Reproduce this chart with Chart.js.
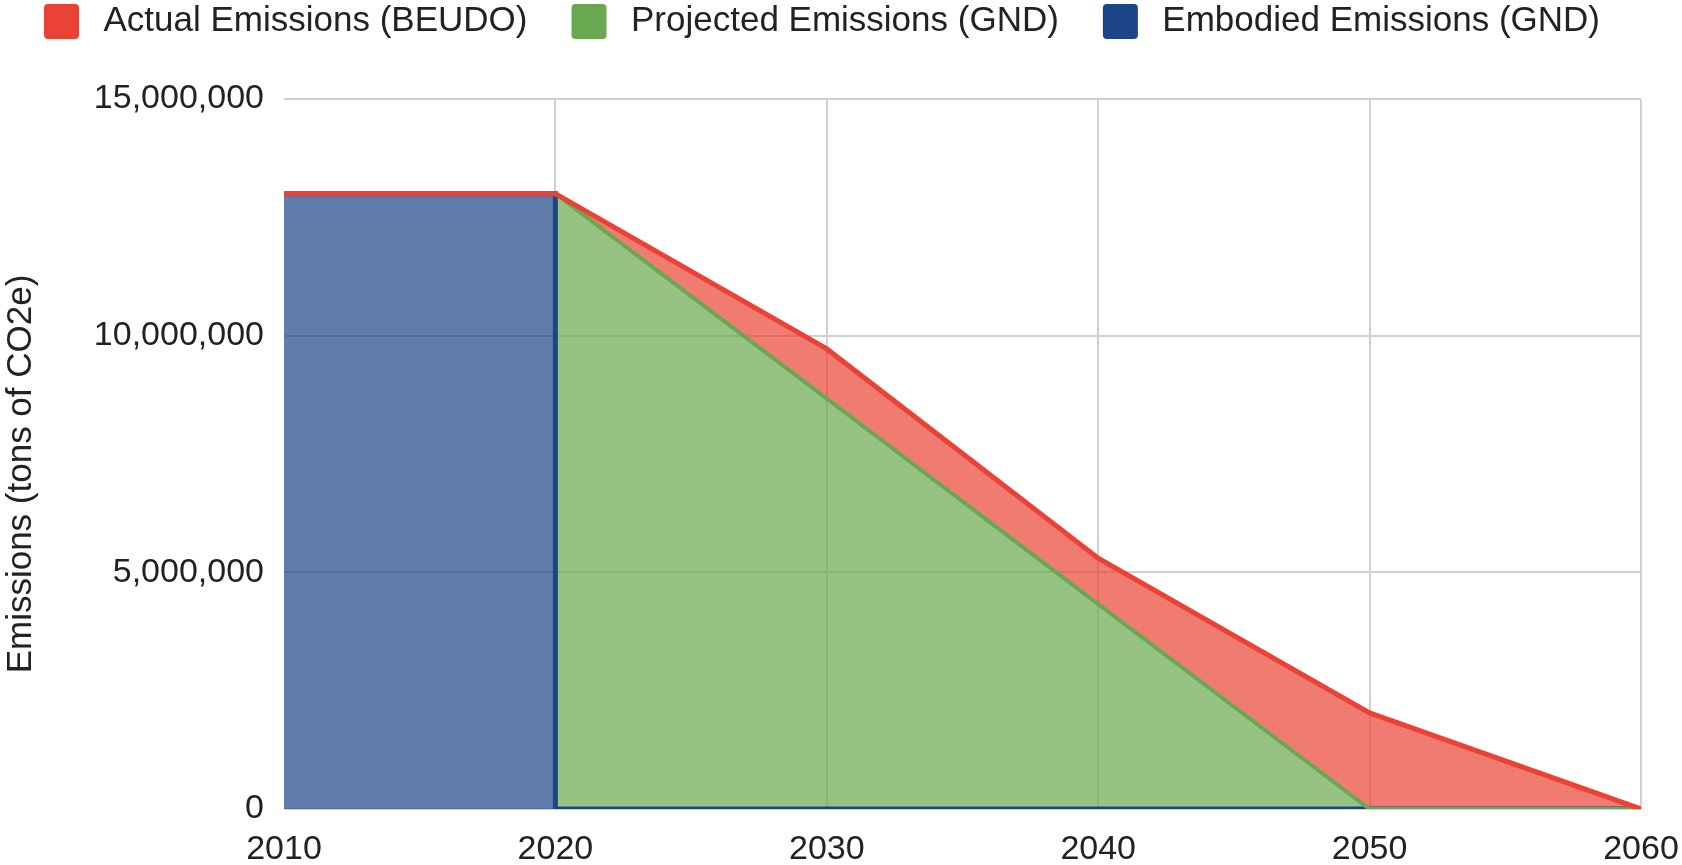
<!DOCTYPE html>
<html>
<head>
<meta charset="utf-8">
<title>Emissions (tons of CO2e)</title>
<script src="https://cdn.jsdelivr.net/npm/chart.js@4/dist/chart.umd.min.js"></script>
<style>
  html, body { margin: 0; padding: 0; background: #ffffff; }
  #wrap { width: 1682px; height: 865px; position: relative; }
</style>
</head>
<body>
<div id="wrap"><canvas id="chart" width="1682" height="865"></canvas></div>
<script>
// Years on the horizontal axis
const years = [2010, 2020, 2030, 2040, 2050, 2060];

// Actual emissions under BEUDO, tons of CO2e
const actualYears  = [2010, 2020, 2030, 2040, 2050, 2060];
const actualValues = [13000000, 13000000, 9720000, 5300000, 2030000, 0];

// Projected emissions under the GND pathway
const projectedYears  = [2020, 2030, 2040, 2050, 2060];
const projectedValues = [13000000, 8670000, 4330000, 0, 0];

// Embodied emissions (GND): flat until 2020, then none
const embodiedYears  = [2010, 2020, 2020, 2030, 2040, 2050, 2060];
const embodiedValues = [13000000, 13000000, 0, 0, 0, 0, 0];

// Axis tick labels
const xTickValues = [2010, 2020, 2030, 2040, 2050, 2060];
const yTickValues = [0, 5000000, 10000000, 15000000];

const seriesNames = ['Actual Emissions (BEUDO)', 'Projected Emissions (GND)', 'Embodied Emissions (GND)'];
const lineColors = ['#ea4335', '#6aa84f', '#1c4587'];
const fillColors = ['rgba(234,67,53,0.7)', 'rgba(106,168,79,0.7)', 'rgba(28,69,135,0.7)'];

const toPoints = (xs, ys) => xs.map((x, i) => ({ x: x, y: ys[i] }));

const FONT = "'Liberation Sans', Arial, 'DejaVu Sans', sans-serif";
const TEXT = '#222222';
const GRID = '#d0d0d0';

// Legend swatch: a rounded square with some leading space inside the swatch image
const SWATCH_W = 82, SWATCH_LEAD = 40, SWATCH_SIZE = 35;
function legendSwatch(color) {
  const c = document.createElement('canvas');
  c.width = SWATCH_W;
  c.height = SWATCH_SIZE;
  const g = c.getContext('2d');
  const x = SWATCH_LEAD, y = 0, w = SWATCH_SIZE, h = SWATCH_SIZE, r = 4;
  g.fillStyle = color;
  g.beginPath();
  g.moveTo(x + r, y);
  g.lineTo(x + w - r, y);
  g.quadraticCurveTo(x + w, y, x + w, y + r);
  g.lineTo(x + w, y + h - r);
  g.quadraticCurveTo(x + w, y + h, x + w - r, y + h);
  g.lineTo(x + r, y + h);
  g.quadraticCurveTo(x, y + h, x, y + h - r);
  g.lineTo(x, y + r);
  g.quadraticCurveTo(x, y, x + r, y);
  g.closePath();
  g.fill();
  return c;
}
const swatches = lineColors.map(legendSwatch);

// Leaves a band between the legend and the plot area
const legendBand = {
  id: 'legendBand',
  beforeInit(chart) {
    const fit = chart.legend.fit;
    chart.legend.fit = function () {
      fit.call(this);
      this.height = 99;
    };
  }
};

// Sets the vertical axis title a little below the plot's middle
const TITLE_SHIFT = 20;
const titleShift = {
  id: 'titleShift',
  afterLayout(chart) {
    const s = chart.scales.y;
    if (s._shiftedTitle) return;
    const draw = s.drawTitle;
    s.drawTitle = function () {
      const c = this.ctx;
      c.save();
      c.translate(0, TITLE_SHIFT);
      draw.call(this);
      c.restore();
    };
    s._shiftedTitle = true;
  }
};

const ctx = document.getElementById('chart').getContext('2d');
new Chart(ctx, {
  type: 'line',
  data: {
    datasets: [
      {
        label: seriesNames[0],
        data: toPoints(actualYears, actualValues),
        borderColor: lineColors[0],
        backgroundColor: fillColors[0],
        borderWidth: 5,
        fill: { target: 1 },
        pointRadius: 0,
        tension: 0
      },
      {
        label: seriesNames[1],
        data: toPoints(projectedYears, projectedValues),
        borderColor: lineColors[1],
        backgroundColor: fillColors[1],
        borderWidth: 4,
        fill: 'origin',
        pointRadius: 0,
        tension: 0
      },
      {
        label: seriesNames[2],
        data: toPoints(embodiedYears, embodiedValues),
        borderColor: lineColors[2],
        backgroundColor: fillColors[2],
        borderWidth: 5,
        fill: 'origin',
        pointRadius: 0,
        tension: 0
      }
    ]
  },
  options: {
    responsive: false,
    animation: false,
    events: [],
    layout: { padding: { left: 0, right: 41, top: 0, bottom: 0 } },
    plugins: {
      filler: { drawTime: 'beforeDatasetsDraw' },
      tooltip: { enabled: false },
      legend: {
        display: true,
        position: 'top',
        align: 'start',
        labels: {
          usePointStyle: true,
          pointStyleWidth: SWATCH_W,
          boxHeight: SWATCH_SIZE,
          padding: 4,
          color: TEXT,
          font: { family: FONT, size: 35 },
          generateLabels(chart) {
            const items = Chart.defaults.plugins.legend.labels.generateLabels(chart);
            items.forEach((it, i) => { it.pointStyle = swatches[i]; });
            return items;
          }
        }
      }
    },
    scales: {
      x: {
        type: 'linear',
        min: xTickValues[0],
        max: xTickValues[xTickValues.length - 1],
        afterBuildTicks(axis) { axis.ticks = xTickValues.map(v => ({ value: v })); },
        afterFit(axis) {
          axis.height = 56;
          axis.paddingLeft = 0;
          axis.paddingRight = 0;
        },
        ticks: {
          padding: 20,
          color: TEXT,
          font: { family: FONT, size: 34 },
          maxRotation: 0,
          autoSkip: false,
          callback: v => String(v)
        },
        grid: {
          drawTicks: false,
          lineWidth: 2,
          color: c => (c.tick && c.tick.value === xTickValues[0]) ? 'rgba(0,0,0,0)' : GRID
        },
        border: { display: false }
      },
      y: {
        type: 'linear',
        min: yTickValues[0],
        max: yTickValues[yTickValues.length - 1],
        afterBuildTicks(axis) { axis.ticks = yTickValues.map(v => ({ value: v })); },
        afterFit(axis) { axis.width = 284; },
        ticks: {
          padding: 20,
          color: TEXT,
          font: { family: FONT, size: 34 },
          callback: v => Number(v).toLocaleString('en-US')
        },
        grid: { drawTicks: false, lineWidth: 2, color: GRID },
        border: { display: false },
        title: {
          display: true,
          text: 'Emissions (tons of CO2e)',
          color: TEXT,
          font: { family: FONT, size: 35 },
          padding: { top: 0, bottom: 0 }
        }
      }
    }
  },
  plugins: [legendBand, titleShift]
});
</script>
</body>
</html>
